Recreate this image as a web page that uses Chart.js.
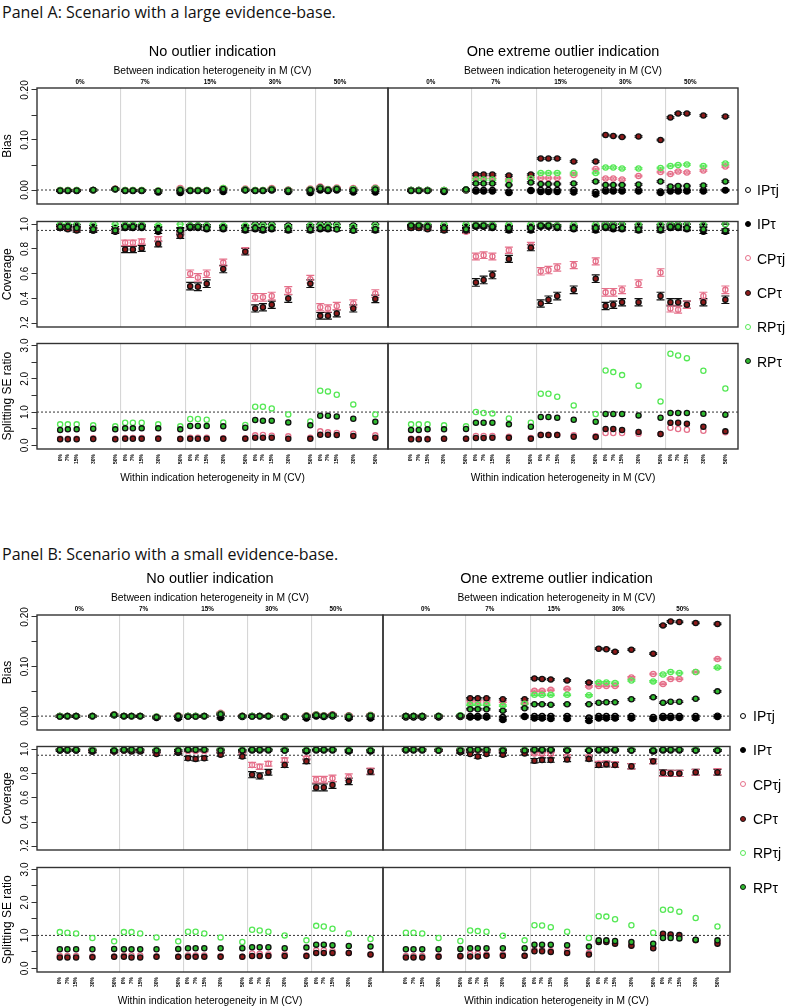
<!DOCTYPE html>
<html>
<head>
<meta charset="utf-8">
<script src="https://cdn.jsdelivr.net/npm/chart.js@4.4.1/dist/chart.umd.min.js"></script>
<style>
  body { margin: 0; background: #fff; width: 786px; height: 1008px; position: relative; overflow: hidden; font-family: "Liberation Sans", Arial, sans-serif; }
  canvas { position: absolute; }
  .ptitle { position: absolute; left: 2px; font-family: "Open Sans", sans-serif; font-size: 16px; color: #111; white-space: nowrap; }
  .leg { position: absolute; font-size: 14px; white-space: nowrap; line-height: 16px; }
  .dot { position: absolute; width: 4px; height: 4px; border-radius: 50%; border: 1.3px solid #000; }
</style>
</head>
<body>
<div class="ptitle" style="top:1px">Panel A: Scenario with a large evidence-base.</div>
<div class="ptitle" style="top:543px">Panel B: Scenario with a small evidence-base.</div>
<script>
// categories / labels
const methodKeys = ["IPtj", "IPt", "CPtj", "CPt", "RPtj", "RPt"];
const methodLabels = ["IP\u03c4j", "IP\u03c4", "CP\u03c4j", "CP\u03c4", "RP\u03c4j", "RP\u03c4"];
const betweenLabels = ["0%", "7%", "15%", "30%", "50%"];
const withinLabels = ["0%", "7%", "15%", "30%", "50%"];
const withinCV = [0, 7, 15, 30, 50];
const halfTitles = ["No outlier indication", "One extreme outlier indication"];
const rowTitles = ["Bias", "Coverage", "Splitting SE ratio"];
const betweenTitle = "Between indication heterogeneity in M (CV)";
const withinTitle = "Within indication heterogeneity in M (CV)";

// y tick values and labels
const biasTickValues = [0, 0.05, 0.1, 0.15, 0.2];
const biasTickLabels = ["0.00", "", "0.10", "", "0.20"];
const covTickValues = [0.2, 0.4, 0.6, 0.8, 1.0];
const covTickLabels = ["0.2", "0.4", "0.6", "0.8", "1.0"];
const seTickValues = [0, 0.5, 1, 1.5, 2, 2.5, 3];
const seTickLabels = ["0.0", "", "1.0", "", "2.0", "", "3.0"];

// reference lines
const biasRef = 0;
const covRef = 0.95;
const seRef = 1.0;
const nSim = 1000;          // simulation runs (Monte Carlo error of coverage)
const biasErrHalf = 0.0015; // Monte Carlo error of bias

// ---- Panel A (large evidence-base): 25 no-outlier values, then 25 outlier values
const aBiasIPtj = [-0.001,-0.001,-0.001,0,0.002, -0.001,-0.001,-0.001,-0.002,-0.002, -0.001,-0.001,-0.001,0.001,0, -0.001,-0.001,0,-0.001,-0.001, 0.002,0,0.001,-0.001,-0.001,
  0,0,0,0,0, 0,0,0,-0.003,0, 0,0,0,0,-0.004, 0,0,0,0,-0.003, 0,0,0,0,0];
const aBiasIPt = [-0.002,-0.002,-0.002,-0.001,0.001, -0.002,-0.002,-0.002,-0.005,-0.006, -0.002,-0.002,-0.002,-0.004,-0.001, -0.002,-0.002,-0.001,-0.004,-0.006, -0.001,-0.002,-0.001,-0.005,-0.005,
  -0.002,-0.002,-0.002,-0.004,-0.001, -0.003,-0.003,-0.003,-0.006,-0.002, -0.004,-0.004,-0.004,-0.005,-0.009, -0.003,-0.003,-0.003,-0.003,-0.006, -0.003,-0.003,-0.003,-0.003,-0.001];
const aBiasCPtj = [0,0,0,0,0.003, 0,0,0,-0.001,0.004, 0,0,0,0.004,0.003, 0,0,0.004,0.001,0.003, 0.007,0.002,0.005,0.004,0.005,
  0,0,0,0,0, 0.025,0.025,0.025,0.022,0.026, 0.024,0.024,0.024,0.03,0.042, 0.023,0.023,0.021,0.028,0.036, 0.032,0.037,0.035,0.039,0.047];
const aBiasCPt = [-0.001,-0.001,-0.001,0,0.002, -0.001,-0.001,-0.001,-0.002,0.001, -0.001,-0.001,-0.001,0.002,0.001, -0.001,-0.001,0.002,0,0.001, 0.005,0.001,0.003,0.002,0.003,
  0,0,0,-0.001,0.001, 0.031,0.031,0.031,0.029,0.031, 0.063,0.063,0.063,0.057,0.057, 0.11,0.108,0.106,0.107,0.1, 0.145,0.153,0.153,0.149,0.147];
const aBiasRPtj = [0,0,0,0,0.002, 0,0,0,-0.001,0.001, 0,0,0,0.004,0.001, 0,0,0.002,0,0.001, 0.004,0.001,0.003,0.002,0.003,
  0,0,0,0,0.001, 0.021,0.021,0.021,0.018,0.023, 0.034,0.034,0.034,0.034,0.034, 0.045,0.045,0.043,0.043,0.044, 0.048,0.05,0.051,0.048,0.053];
const aBiasRPt = [-0.001,-0.001,-0.001,0,0.002, -0.001,-0.001,-0.001,-0.002,0, -0.001,-0.001,-0.001,0.002,0, -0.001,-0.001,0.001,-0.001,0, 0.003,0,0.002,0,0.001,
  -0.001,-0.001,-0.001,-0.002,0.001, 0.013,0.013,0.013,0.01,0.015, 0.012,0.012,0.012,0.013,0.017, 0.01,0.01,0.01,0.011,0.017, 0.007,0.008,0.008,0.009,0.017];

const aCovIPtj = [0.99,0.99,0.99,0.98,0.97, 0.99,0.99,0.99,0.97,0.96, 0.99,0.99,0.99,0.98,0.98, 1.0,1.0,1.0,0.99,0.99, 1.0,1.0,1.0,0.99,1.0,
  0.99,0.99,0.99,0.98,0.98, 0.99,0.99,0.99,0.98,0.98, 0.99,0.99,0.99,0.98,0.98, 1.0,1.0,1.0,0.99,0.99, 1.0,1.0,1.0,0.99,1.0];
const aCovIPt = [0.97,0.97,0.96,0.95,0.94, 0.97,0.97,0.97,0.94,0.93, 0.97,0.97,0.96,0.96,0.95, 0.96,0.95,0.96,0.95,0.95, 0.96,0.96,0.96,0.95,0.95,
  0.98,0.98,0.97,0.96,0.95, 0.98,0.98,0.97,0.95,0.95, 0.98,0.98,0.97,0.96,0.95, 0.97,0.96,0.96,0.95,0.95, 0.97,0.97,0.96,0.94,0.94];
const aCovCPtj = [0.98,0.97,0.96,0.96,0.95, 0.85,0.85,0.86,0.88,0.92, 0.60,0.57,0.60,0.69,0.785, 0.41,0.41,0.42,0.465,0.556, 0.33,0.32,0.34,0.36,0.44,
  0.98,0.98,0.97,0.97,0.94, 0.74,0.75,0.74,0.79,0.83, 0.62,0.63,0.65,0.67,0.70, 0.45,0.45,0.47,0.52,0.61, 0.32,0.31,0.35,0.42,0.47];
const aCovCPt = [0.97,0.96,0.95,0.95,0.95, 0.796,0.796,0.805,0.84,0.904, 0.50,0.495,0.52,0.638,0.778, 0.32,0.33,0.35,0.40,0.52, 0.26,0.26,0.28,0.32,0.397,
  0.97,0.97,0.96,0.95,0.95, 0.53,0.55,0.59,0.72,0.81, 0.36,0.39,0.42,0.47,0.56, 0.34,0.35,0.37,0.37,0.42, 0.37,0.37,0.35,0.37,0.39];
const aCovRPtj = [1.0,1.0,1.0,1.0,1.0, 1.0,1.0,1.0,0.99,1.0, 0.99,0.99,0.99,0.99,0.99, 0.99,0.99,0.99,0.98,0.99, 0.99,0.99,0.99,0.98,0.99,
  1.0,1.0,1.0,1.0,1.0, 1.0,1.0,1.0,1.0,1.0, 1.0,1.0,0.99,1.0,1.0, 1.0,1.0,1.0,1.0,1.0, 1.0,1.0,1.0,1.0,1.0];
const aCovRPt = [0.98,0.98,0.97,0.96,0.95, 0.98,0.98,0.98,0.96,0.95, 0.98,0.98,0.97,0.97,0.96, 0.97,0.96,0.97,0.96,0.96, 0.97,0.97,0.96,0.95,0.96,
  0.99,0.99,0.98,0.97,0.96, 0.99,0.99,0.98,0.97,0.97, 0.99,0.99,0.98,0.97,0.97, 0.98,0.98,0.97,0.96,0.96, 0.98,0.98,0.97,0.96,0.95];

const aSeCPtj = [0.20,0.20,0.20,0.21,0.20, 0.22,0.22,0.22,0.21,0.20, 0.23,0.23,0.23,0.21,0.21, 0.30,0.31,0.29,0.27,0.23, 0.42,0.39,0.37,0.35,0.30,
  0.20,0.20,0.20,0.20,0.20, 0.28,0.28,0.28,0.26,0.22, 0.32,0.32,0.32,0.30,0.27, 0.37,0.37,0.37,0.35,0.34, 0.53,0.49,0.47,0.44,0.39];
const aSeCPt = [0.185,0.185,0.185,0.19,0.185, 0.20,0.20,0.20,0.20,0.19, 0.20,0.20,0.20,0.20,0.20, 0.23,0.23,0.23,0.20,0.20, 0.32,0.32,0.31,0.28,0.23,
  0.185,0.185,0.185,0.20,0.20, 0.22,0.22,0.23,0.23,0.20, 0.31,0.31,0.31,0.26,0.25, 0.49,0.49,0.46,0.40,0.34, 0.68,0.68,0.65,0.56,0.42];
const aSeRPtj = [0.63,0.63,0.63,0.60,0.57, 0.68,0.68,0.68,0.63,0.57, 0.79,0.79,0.77,0.69,0.61, 1.16,1.16,1.11,0.93,0.72, 1.64,1.62,1.52,1.23,0.93,
  0.63,0.63,0.63,0.60,0.57, 1.0,0.97,0.96,0.81,0.68, 1.55,1.55,1.46,1.20,0.94, 2.25,2.20,2.11,1.79,1.32, 2.75,2.70,2.62,2.24,1.71];
const aSeRPt = [0.46,0.48,0.48,0.50,0.48, 0.51,0.51,0.51,0.51,0.48, 0.58,0.58,0.58,0.57,0.53, 0.76,0.74,0.74,0.69,0.60, 0.89,0.89,0.87,0.80,0.71,
  0.46,0.46,0.48,0.48,0.49, 0.68,0.68,0.68,0.63,0.56, 0.85,0.85,0.83,0.77,0.71, 0.94,0.94,0.94,0.90,0.83, 0.97,0.97,0.97,0.95,0.92];

// ---- Panel B (small evidence-base)
const bBiasIPtj = [0,0,0,0,0.002, 0,0,0,-0.002,-0.001, 0,0,0,0.003,0, 0,0,0,-0.001,-0.001, 0.002,0.001,0.002,-0.002,0,
  0,0,0,0,0, 0,0,0,-0.002,0, 0,0,0,0,-0.003, 0,0,0,0,-0.002, 0,0,0,0,0.001];
const bBiasIPt = [-0.001,-0.001,-0.001,-0.001,0.002, -0.001,-0.001,-0.001,-0.004,-0.005, -0.001,-0.001,-0.001,-0.004,-0.002, -0.001,-0.001,-0.001,-0.003,-0.005, -0.001,-0.002,-0.001,-0.005,-0.005,
  -0.003,-0.003,-0.003,-0.003,-0.002, -0.003,-0.003,-0.003,-0.008,-0.002, -0.005,-0.005,-0.006,-0.006,-0.01, -0.005,-0.005,-0.005,-0.005,-0.006, -0.004,-0.004,-0.004,-0.005,-0.002];
const bBiasCPtj = [0,0,0,0,0.004, 0,0,0,-0.001,0.002, 0,0,0,0.007,0.001, 0,0,0.001,0,0.002, 0.004,0.002,0.004,0.002,0.003,
  0,0,0,0,0, 0.03,0.03,0.03,0.029,0.027, 0.051,0.051,0.053,0.055,0.06, 0.061,0.061,0.061,0.078,0.085, 0.065,0.075,0.075,0.089,0.115];
const bBiasCPt = [0,0,0,0,0.003, 0,0,0,-0.002,0.001, 0,0,0,0.005,0, 0,0,0,-0.001,0.001, 0.003,0.001,0.003,0.001,0.002,
  0,0,0,0,0, 0.036,0.036,0.036,0.034,0.034, 0.076,0.075,0.074,0.072,0.068, 0.136,0.135,0.13,0.134,0.126, 0.183,0.191,0.19,0.188,0.186];
const bBiasRPtj = [0,0,0,0,0.003, 0,0,0,-0.001,0.001, 0,0,0,0.005,0, 0,0,0,-0.001,0.001, 0.003,0.001,0.002,0,0.002,
  0,0,0,0.001,0.002, 0.023,0.023,0.023,0.021,0.025, 0.043,0.043,0.043,0.043,0.042, 0.068,0.068,0.067,0.072,0.07, 0.084,0.089,0.087,0.089,0.098];
const bBiasRPt = [-0.001,0,0,0,0.003, 0,0,0,-0.002,0, -0.001,-0.001,0,0.004,0, -0.001,0,0,-0.001,0, 0.002,0,0.002,-0.001,0.001,
  0,0,0,0,0.001, 0.014,0.014,0.014,0.011,0.016, 0.024,0.024,0.023,0.024,0.024, 0.027,0.028,0.028,0.034,0.038, 0.027,0.029,0.029,0.035,0.05];

const bCovIPtj = [1.0,1.0,1.0,1.0,0.99, 1.0,1.0,1.0,0.99,0.99, 1.0,1.0,1.0,1.0,0.99, 1.0,1.0,1.0,1.0,0.99, 1.0,1.0,1.0,0.99,0.99,
  1.0,1.0,1.0,1.0,1.0, 1.0,1.0,1.0,1.0,0.99, 1.0,1.0,1.0,1.0,0.99, 1.0,1.0,1.0,1.0,0.99, 1.0,1.0,1.0,1.0,0.99];
const bCovIPt = [0.99,0.99,0.99,0.98,0.98, 0.99,0.99,0.99,0.98,0.97, 0.99,0.99,0.99,0.98,0.98, 0.99,0.99,0.99,0.99,0.98, 0.99,0.99,0.99,0.98,0.98,
  0.99,0.99,0.99,0.99,0.98, 0.99,0.99,0.99,0.98,0.99, 0.99,0.99,0.99,0.99,0.99, 0.99,0.99,0.99,0.99,0.98, 0.99,0.99,0.99,0.99,0.99];
const bCovCPtj = [1.0,1.0,1.0,0.99,0.98, 0.99,0.99,0.99,0.97,0.98, 0.985,0.985,0.985,0.98,0.97, 0.87,0.855,0.88,0.91,0.925, 0.75,0.75,0.76,0.77,0.82,
  1.0,1.0,1.0,0.99,0.99, 0.99,0.99,0.99,0.985,0.99, 0.965,0.96,0.96,0.94,0.935, 0.88,0.885,0.875,0.86,0.9, 0.80,0.80,0.80,0.81,0.815];
const bCovCPt = [0.99,0.99,0.99,0.98,0.98, 0.99,0.98,0.98,0.96,0.975, 0.925,0.92,0.925,0.955,0.94, 0.79,0.78,0.81,0.87,0.9, 0.685,0.685,0.705,0.735,0.815,
  1.0,1.0,1.0,0.99,0.975, 0.96,0.94,0.96,0.955,0.965, 0.905,0.91,0.91,0.915,0.92, 0.87,0.875,0.87,0.86,0.9, 0.805,0.80,0.80,0.81,0.81];
const bCovRPtj = [1.0,1.0,1.0,1.0,1.0, 1.0,1.0,1.0,1.0,1.0, 1.0,1.0,1.0,1.0,1.0, 1.0,1.0,1.0,1.0,0.995, 1.0,1.0,1.0,1.0,0.995,
  1.0,1.0,1.0,1.0,1.0, 1.0,1.0,1.0,1.0,1.0, 1.0,1.0,1.0,1.0,1.0, 1.0,1.0,1.0,1.0,1.0, 1.0,1.0,1.0,1.0,1.0];
const bCovRPt = [0.995,0.995,0.995,0.99,0.99, 0.995,0.995,0.995,0.99,0.99, 0.995,0.995,0.995,0.99,0.99, 0.995,0.995,0.995,0.99,0.99, 0.995,0.995,0.995,0.99,0.99,
  0.995,0.995,0.995,0.99,0.99, 0.995,0.995,0.995,0.99,0.99, 0.995,0.995,0.995,0.99,0.99, 0.995,0.995,0.995,0.99,0.99, 0.995,0.995,0.995,0.99,0.99];

const bSeCPtj = [0.375,0.375,0.375,0.36,0.36, 0.39,0.39,0.39,0.37,0.35, 0.39,0.39,0.39,0.37,0.35, 0.45,0.44,0.42,0.42,0.39, 0.545,0.545,0.52,0.47,0.42,
  0.375,0.375,0.375,0.375,0.36, 0.44,0.44,0.42,0.42,0.38, 0.56,0.56,0.53,0.53,0.47, 0.82,0.82,0.78,0.70,0.62, 1.0,1.0,0.97,0.85,0.80];
const bSeCPt = [0.33,0.33,0.33,0.34,0.35, 0.35,0.33,0.33,0.35,0.35, 0.35,0.35,0.35,0.35,0.35, 0.375,0.375,0.375,0.375,0.375, 0.47,0.47,0.47,0.47,0.42,
  0.33,0.33,0.33,0.35,0.375, 0.36,0.36,0.38,0.38,0.38, 0.52,0.52,0.50,0.47,0.42, 0.80,0.80,0.75,0.69,0.61, 1.05,1.03,1.01,0.86,0.75];
const bSeRPtj = [1.10,1.08,1.06,0.92,0.82, 1.10,1.10,1.06,0.94,0.82, 1.11,1.11,1.06,0.94,0.80, 1.17,1.15,1.11,1.0,0.85, 1.29,1.27,1.20,1.06,0.89,
  1.08,1.08,1.06,0.92,0.83, 1.15,1.13,1.11,0.99,0.85, 1.31,1.30,1.25,1.11,0.92, 1.58,1.57,1.49,1.31,1.08, 1.78,1.78,1.72,1.53,1.27];
const bSeRPt = [0.58,0.58,0.58,0.58,0.59, 0.58,0.58,0.58,0.58,0.59, 0.61,0.61,0.61,0.61,0.61, 0.64,0.64,0.64,0.61,0.63, 0.72,0.72,0.70,0.68,0.66,
  0.58,0.58,0.58,0.58,0.59, 0.61,0.61,0.61,0.61,0.61, 0.72,0.72,0.72,0.70,0.66, 0.85,0.85,0.83,0.80,0.75, 0.92,0.92,0.91,0.87,0.85];

// tables for the library
const seriesData = {
  A: {
    bias: { IPtj: aBiasIPtj, IPt: aBiasIPt, CPtj: aBiasCPtj, CPt: aBiasCPt, RPtj: aBiasRPtj, RPt: aBiasRPt },
    cov: { IPtj: aCovIPtj, IPt: aCovIPt, CPtj: aCovCPtj, CPt: aCovCPt, RPtj: aCovRPtj, RPt: aCovRPt },
    se: { CPtj: aSeCPtj, CPt: aSeCPt, RPtj: aSeRPtj, RPt: aSeRPt },
  },
  B: {
    bias: { IPtj: bBiasIPtj, IPt: bBiasIPt, CPtj: bBiasCPtj, CPt: bBiasCPt, RPtj: bBiasRPtj, RPt: bBiasRPt },
    cov: { IPtj: bCovIPtj, IPt: bCovIPt, CPtj: bCovCPtj, CPt: bCovCPt, RPtj: bCovRPtj, RPt: bCovRPt },
    se: { CPtj: bSeCPtj, CPt: bSeCPt, RPtj: bSeRPtj, RPt: bSeRPt },
  },
};

// styles
const FONT = "'Liberation Sans', Arial, sans-serif";
Chart.defaults.font.family = FONT;
Chart.defaults.color = "#000";

const methodStyle = {
  IPtj: { border: "#000", fill: "rgba(0,0,0,0)", err: "#000" },
  IPt: { border: "#000", fill: "#000", err: "#000" },
  CPtj: { border: "#E5708A", fill: "rgba(0,0,0,0)", err: "#E5708A" },
  CPt: { border: "#111", fill: "#8E1A1A", err: "#111" },
  RPtj: { border: "#55E855", fill: "rgba(0,0,0,0)", err: "#55E855" },
  RPt: { border: "#111", fill: "#2FBA2F", err: "#111" },
};

const GROUP_SPAN = 59;
const WITHIN_OFFSET = 4;
const BETWEEN_LABEL_OFFSET = 22;
const X_MIN = -17;
const X_MAX = 301.5;

const TITLE_SIZE = 14.5;
const TITLE_GAP = 4;
const SUB_SIZE = 10.3;
const TOP_AXIS_H = 10.5;
const HEADER_H = TITLE_SIZE * 1.2 + TITLE_GAP + SUB_SIZE * 1.2 + TOP_AXIS_H;
const FOOT_H = 35;

const rowSpecs = [
  { key: "bias", min: -0.028, max: 0.204, ticks: biasTickValues, labels: biasTickLabels, pad: -3.2, ref: biasRef },
  { key: "cov", min: 0.17, max: 1.022, ticks: covTickValues, labels: covTickLabels, pad: -0.5, ref: covRef },
  { key: "se", min: -0.11, max: 3.06, ticks: seTickValues, labels: seTickLabels, pad: -0.5, ref: seRef },
];

const panels = [
  { id: "A", rows: [[88, 204], [211, 327], [333, 449]], left: 37, mid: 388, right: 738, legendY: 190, dotX: 748, textX: 757 },
  { id: "B", rows: [[615, 730], [736, 850], [857, 972]], left: 37, mid: 383, right: 730, legendY: 716, dotX: 743, textX: 753 },
];
const LEGEND_STEP = 34.3;

function xOf(i) {
  const g = Math.floor(i / 5);
  return g * GROUP_SPAN + WITHIN_OFFSET + withinCV[i % 5];
}
const xPositions = withinCV.flatMap((_, g) => withinCV.map((w, k) => xOf(g * 5 + k)));
const betweenPositions = betweenLabels.map((_, g) => g * GROUP_SPAN + BETWEEN_LABEL_OFFSET);
const groupLines = [1, 2, 3, 4].map((g) => g * GROUP_SPAN);

const errorBars = {
  id: "errorBars",
  beforeDatasetsDraw(chart) {
    const ctx = chart.ctx;
    const ys = chart.scales.y;
    chart.data.datasets.forEach((ds, di) => {
      if (!ds.errHalf) return;
      const meta = chart.getDatasetMeta(di);
      ctx.save();
      ctx.strokeStyle = ds.errColor;
      ctx.lineWidth = 1.2;
      meta.data.forEach((pt, i) => {
        const v = ds.data[i].y;
        const h = ds.errHalf[i];
        const y1 = ys.getPixelForValue(v - h);
        const y2 = ys.getPixelForValue(v + h);
        ctx.beginPath();
        ctx.moveTo(pt.x, y1); ctx.lineTo(pt.x, y2);
        ctx.moveTo(pt.x - 4, y1); ctx.lineTo(pt.x + 4, y1);
        ctx.moveTo(pt.x - 4, y2); ctx.lineTo(pt.x + 4, y2);
        ctx.stroke();
      });
      ctx.restore();
    });
  },
};

const boxPlugin = {
  id: "box",
  afterDatasetsDraw(chart) {
    const a = chart.chartArea;
    const ctx = chart.ctx;
    ctx.save();
    ctx.strokeStyle = "#333";
    ctx.lineWidth = 1.4;
    ctx.strokeRect(a.left, a.top, a.right - a.left, a.bottom - a.top);
    ctx.restore();
  },
};

function makeChart(panel, half, r) {
  const spec = rowSpecs[r];
  const [top, bottom] = panel.rows[r];
  const isLeft = half === 0;
  const canvasLeft = isLeft ? 0 : panel.mid - 2;
  const width = isLeft ? panel.mid + 2 : panel.right + 8 - canvasLeft;
  const head = r === 0 ? HEADER_H : 0;
  const foot = r === 2 ? FOOT_H : 0;
  const canvasTop = Math.floor(top - head - 1);
  const padT = top - head - canvasTop;
  const canvasBottom = Math.ceil(bottom + foot + 1);
  const padB = canvasBottom - (bottom + foot);

  const cv = document.createElement("canvas");
  cv.width = width;
  cv.height = canvasBottom - canvasTop;
  cv.style.left = canvasLeft + "px";
  cv.style.top = canvasTop + "px";
  document.body.appendChild(cv);

  const series = seriesData[panel.id][spec.key];
  const datasets = [];
  ["RPt", "RPtj", "CPt", "CPtj", "IPt", "IPtj"].forEach((m) => {
    const vals = series[m];
    if (!vals) return;
    const part = vals.slice(half * 25, half * 25 + 25);
    const st = methodStyle[m];
    let errHalf = null;
    if (spec.key === "cov") errHalf = part.map((p) => 1.96 * Math.sqrt(p * (1 - p) / nSim));
    if (spec.key === "bias") errHalf = part.map(() => biasErrHalf);
    datasets.push({
      label: methodLabels[methodKeys.indexOf(m)],
      data: part.map((v, i) => ({ x: xOf(i), y: v })),
      pointRadius: 2.6,
      pointBorderWidth: 1.3,
      pointBorderColor: st.border,
      pointBackgroundColor: st.fill,
      showLine: false,
      errHalf,
      errColor: st.err,
    });
  });
  datasets.push({
    type: "line",
    data: [{ x: X_MIN, y: spec.ref }, { x: X_MAX, y: spec.ref }],
    borderColor: "#333",
    borderWidth: 1,
    borderDash: [2, 2],
    pointRadius: 0,
  });

  new Chart(cv, {
    type: "scatter",
    data: { datasets },
    plugins: [errorBars, boxPlugin],
    options: {
      responsive: false,
      animation: false,
      events: [],
      devicePixelRatio: 1,
      layout: { autoPadding: false, padding: { left: isLeft ? 0 : 2, right: isLeft ? 2 : 8, top: padT, bottom: padB } },
      plugins: {
        legend: { display: false },
        tooltip: { enabled: false },
        title: {
          display: r === 0, text: halfTitles[half], fullSize: false, color: "#000",
          font: { size: TITLE_SIZE, weight: "normal", lineHeight: 1.2 }, padding: { top: 0, bottom: TITLE_GAP },
        },
        subtitle: {
          display: r === 0, text: betweenTitle, fullSize: false, color: "#000",
          font: { size: SUB_SIZE, weight: "normal", lineHeight: 1.2 }, padding: 0,
        },
      },
      scales: {
        x: {
          type: "linear", position: "bottom", min: X_MIN, max: X_MAX, display: r === 2,
          grid: { display: false, drawTicks: false }, border: { display: false },
          afterBuildTicks: (s) => { s.ticks = xPositions.map((v) => ({ value: v })); },
          afterFit: (s) => { if (r === 2) s.height = FOOT_H; s.paddingLeft = 0; s.paddingRight = 0; },
          ticks: {
            autoSkip: false, minRotation: 90, maxRotation: 90, padding: 5,
            font: { size: 5, weight: "bold" }, callback: (v, i) => withinLabels[i % 5],
          },
          title: { display: true, text: withinTitle, font: { size: 10.2 }, padding: 0 },
        },
        xt: {
          type: "linear", position: "top", min: X_MIN, max: X_MAX, display: r === 0,
          grid: { display: false, drawTicks: false }, border: { display: false },
          afterBuildTicks: (s) => { s.ticks = betweenPositions.map((v) => ({ value: v })); },
          afterFit: (s) => { s.height = TOP_AXIS_H; s.paddingLeft = 0; s.paddingRight = 0; },
          ticks: { autoSkip: false, maxRotation: 0, padding: 1.5, font: { size: 6.3, weight: "bold" }, callback: (v, i) => betweenLabels[i] },
        },
        xg: {
          type: "linear", position: "bottom", min: X_MIN, max: X_MAX,
          grid: { color: "#d6d6d6", lineWidth: 1.1, drawTicks: false },
          border: { display: false },
          ticks: { display: false },
          afterBuildTicks: (s) => { s.ticks = groupLines.map((v) => ({ value: v })); },
          afterFit: (s) => { s.height = 0; s.paddingLeft = 0; s.paddingRight = 0; },
        },
        y: {
          type: "linear", position: "left", min: spec.min, max: spec.max, display: isLeft,
          grid: { drawOnChartArea: false, drawTicks: true, tickLength: 5.5, color: "#333", lineWidth: 1 },
          border: { display: false },
          afterBuildTicks: (s) => { s.ticks = spec.ticks.map((v) => ({ value: v })); },
          afterFit: (s) => { s.width = isLeft ? panel.left : 0; s.paddingTop = 0; s.paddingBottom = 0; },
          ticks: {
            autoSkip: false, minRotation: 90, maxRotation: 90, crossAlign: "center", padding: spec.pad,
            font: { size: 10 }, callback: (v, i) => spec.labels[i],
          },
          title: { display: true, text: rowTitles[r], font: { size: 12 }, padding: 0 },
        },
      },
    },
  });
}

panels.forEach((p) => {
  [0, 1].forEach((half) => [0, 1, 2].forEach((r) => makeChart(p, half, r)));
  methodKeys.forEach((m, i) => {
    const y = p.legendY + i * LEGEND_STEP;
    const st = methodStyle[m];
    const d = document.createElement("div");
    d.className = "dot";
    d.style.left = (p.dotX - 3.3) + "px";
    d.style.top = (y - 3.3) + "px";
    d.style.borderColor = st.border;
    d.style.background = st.fill;
    document.body.appendChild(d);
    const t = document.createElement("div");
    t.className = "leg";
    t.style.left = p.textX + "px";
    t.style.top = (y - 8) + "px";
    t.textContent = methodLabels[i];
    document.body.appendChild(t);
  });
});
</script>
</body>
</html>
